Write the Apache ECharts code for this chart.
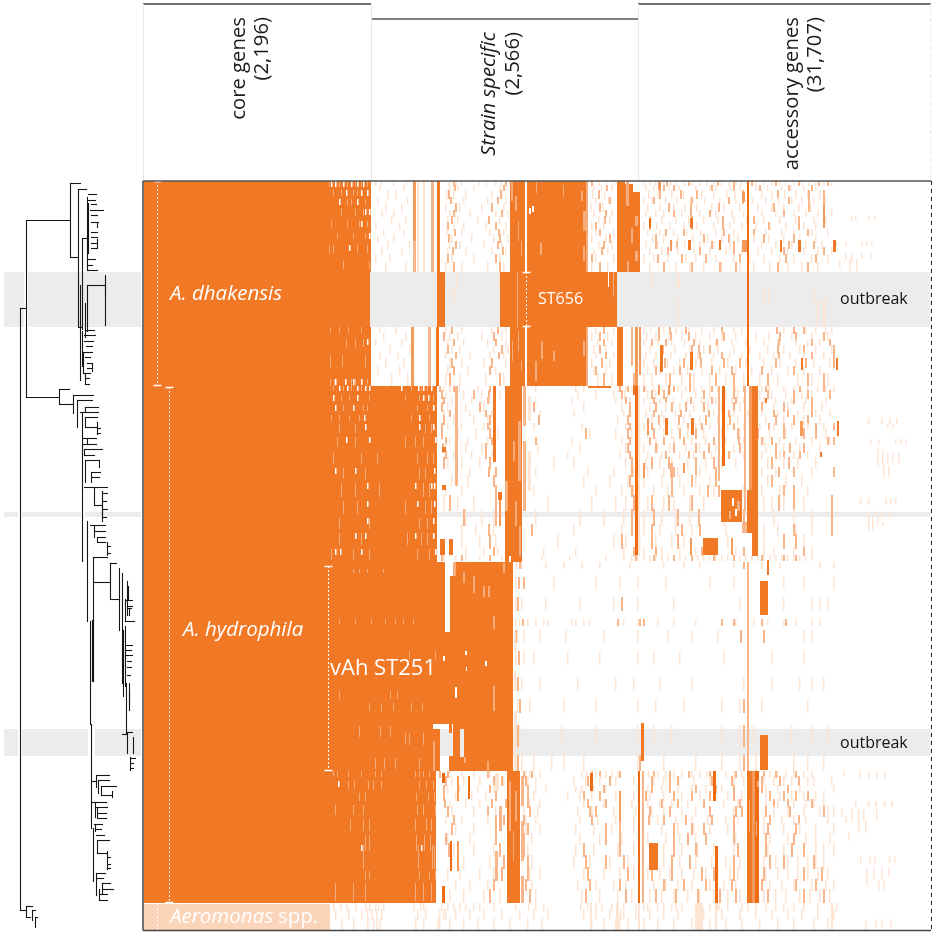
<!DOCTYPE html>
<html><head><meta charset="utf-8">
<style>html,body{margin:0;padding:0;background:#fff}#c{width:936px;height:935px}</style>
<script src="https://cdn.jsdelivr.net/npm/echarts@6/dist/echarts.min.js"></script>
</head><body><div id="c"></div>
<script>
// Units: c = gene column, r = strain row (in tree order); tree x = branch length.
const headerLines = [
  ['core genes',229,17,false],['(2,196)',252,17,false],
  ['Strain specific',479,32,true],['(2,566)',503,32,false],
  ['accessory genes',782,17,false],['(31,707)',805,17,false]];
const annotations = [ // c, r, text, size, italic, colour
  [27,113,'A. dhakensis',20.5,1,'#fff'],[40,449,'A. hydrophila',20.5,1,'#fff'],
  [187,488,'vAh ST251',22,0,'#fff'],[395,118,'ST656',16,0,'#fff'],
  [697,118,'outbreak',16,0,'#111'],[697,562,'outbreak',16,0,'#111'],
  [27,736,'Aeromonas',20.5,1,'#fff'],[135,736,'spp.',20.5,0,'#fff']];
const cladeMarkers = [ // c, r0, r1, capped
  [14,0,205],[26,206,722],[185,385,590],[383,91,146],[14,723,749]];
const outbreakRows = [[91,146],[331,336],[548,575]];
const treeBandGaps = [[4,24,91,146],[28,141,91,146],[4,18,331,336],[22,81,331,336],[85,141,331,336],[4,18,548,575],[22,88,548,575],[95,141,548,575]];

// solid presence blocks: c0,c1,r0,r1
const solidBlocks = [
 [1,228,0,91],[1,227,91,146],[1,228,146,205],
 [1,272,205,381],[272,294,205,381],[1,302,381,543],[1,297,543,590],[310,370,381,590],[302,310,451,543],[307,310,395,451],[306,309,543,552],[306,310,575,590],
 [1,270,590,722],[270,293,590,722],
 [294,297,0,91],[294,302,91,146],[293,296,146,205],
 [367,382,0,91],[367,382,146,205],[357,474,91,146],[384,445,0,91],[384,445,146,205],
 [474,482,0,91],[474,480,146,205],[482,497,11,91],[482,490,3,11],
 [229,294,205,208],[362,379,205,381],[445,468,205,207],
 [578,599,309,341],[604,615,309,352],[617,625,400,434],[617,625,554,589],[498,501,542,580],
 [506,515,662,689],[364,377,590,722],[560,575,357,374]];
// vertical stripes and strong dashes: c, width, r0, r1, level (1 pale,2 mid,3 strong,4 full,5 dark)
const stripes = [
 [270,3,0,60,3],[270,3,60,91,2],[274,2,0,91,1],[280,2,0,91,1],[288,3,0,91,2],[268,3,146,205,3],[285,3,146,205,2],
 [604,2,0,205,5],[604,2,91,146,5],[492,3,146,205,3],[496,2,146,194,3],[488,2,146,185,2],
 [312,3,205,305,2],[350,3,205,281,4],[355,4,311,319,4],[356,2,319,345,3],[380,3,205,245,2],[380,3,260,330,2],[385,3,215,240,1],[385,3,270,310,1],
 [492,3,205,374,5],[495,2,205,374,1],[579,3,205,285,5],[609,6,205,375,4],[606,3,205,309,3],[575,2,205,300,2],[601,2,205,330,2],
 [299,4,266,271,4],[299,4,304,309,4],[297,5,358,374,4],[306,4,358,374,4],
 [522,3,237,254,4],[548,3,237,254,4],[504,2,237,254,3],[657,3,240,255,3],[694,2,240,255,4],[500,2,282,297,3],[527,3,282,297,2],[540,2,282,292,3],[622,2,217,222,4],[677,2,271,276,4],[547,2,357,374,3],
 [599,5,341,352,2],[562,13,357,374,4],[588,2,357,374,3],[624,2,379,394,4],
 [506,2,37,47,5],[547,3,37,47,4],[545,3,59,69,4],[515,3,1,9,3],[599,3,11,21,3],[599,5,59,71,3],[637,2,59,71,4],[655,3,59,71,4],[690,3,59,71,4],[680,2,24,47,3],[576,2,59,69,4],[527,2,59,70,3],[665,2,10,30,2],
 [517,3,164,191,4],[547,3,171,189,4],[658,2,177,189,4],[693,2,177,189,4],[490,2,204,214,4],[515,2,204,214,3],[525,2,204,214,3],
 [604,2,381,590,2],[371,2,451,470,1],[371,2,490,510,1],[371,3,530,590,1],[370,2,590,620,2],
 [495,2,590,722,5],[499,2,590,722,2],[572,3,665,722,5],[570,3,590,620,5],[604,5,590,722,4],[612,4,590,722,5],[609,3,590,722,3],
 [447,3,592,610,5],[476,2,610,640,3],[299,3,592,602,5],[299,3,705,722,5],[314,2,595,620,3],[314,2,660,690,3],[325,2,595,618,5],[307,2,660,690,5],[352,4,592,610,1],[356,3,625,650,2],[352,3,670,700,2],[378,3,595,625,2],[378,3,640,680,2],[378,3,695,722,2],
 [552,8,722,749,1],[447,2,722,749,1],[473,3,722,749,1],[495,2,722,749,1],[572,2,722,749,1],[688,2,722,749,1]];

// dash rows: r0,r1,[pale columns],[mid columns]
const dhakensisTop = [
 [0,5,[232,238,250,262,305,312,318,335,342,352,358,448,455,462,470,500,506,512,520,527,533,541,548,556,563,570,578,585,592,598,612,620,628,636,642,650,658,665,672,680,688],[310,362,448,515,523,545,574,590,608,632,655,675,684]],
 [4,10,[236,260,306,314,330,356,362,450,458,468,502,510,525,535,552,566,572,587,596,612,624,638,647,660,672],[311,360,463,520,530,568,590,616,645,668]],
 [9,18,[244,252,303,310,322,348,358,449,461,505,514,528,540,558,570,583,591,600,618,628,641,652,664,676],[305,357,455,516,537,553,599,634,665,680]],
 [16,23,[234,264,308,320,344,362,452,465,500,508,522,533,547,561,576,592,609,622,635,648,658,670,682],[307,354,466,510,548,585,599,645,680,665]],
 [22,31,[242,258,302,316,338,360,447,459,504,516,530,541,553,568,580,596,614,628,640,655,667],[312,348,456,525,547,575,630,680,665]],
 [29,36,[238,250,306,326,352,364,450,468,502,512,520,538,556,572,588,600,618,632,650,662,674,688],[310,358,462,530,547,566,640,680],[]],
 [35,43,[248,262,304,314,334,356,455,466,507,518,532,545,560,574,590,603,620,636,652,670,682],[308,345,461,548,579,655,610]],
 [41,49,[232,256,310,320,342,362,448,460,500,513,526,540,553,570,586,598,612,626,642,660,672],[304,352,452,506,548,579,655,625]],
 [48,55,[240,260,303,318,346,360,452,470,504,516,530,543,557,572,590,605,622,638,650,668,684],[311,355,456,522,540,580,610,664]],
 [53,62,[234,250,308,328,350,364,448,462,509,520,534,549,564,578,594,610,625,640,656,672],[305,356,466,512,560,585,620,650]],
 [60,68,[244,266,306,316,340,358,455,468,502,514,528,541,556,570,586,600,618,632,648,662,678],[312,354,460,512,533,568,590,645,670]],
 [66,74,[238,258,304,322,348,362,450,464,506,518,534,550,566,582,598,614,628,644,660,674,688],[309,359,458,524,556,590,640,680]],
 [73,82,[232,246,308,330,356,452,470,500,510,524,542,552,572,590,606,620,636,650,668,684],[304,352,448,514,538,562,596,642,672]],
 [81,91,[242,262,302,318,344,360,448,464,506,520,532,546,560,578,596,610,626,644,658,674],[310,356,456,520,548,576,592,634,664]]];
const dhakensisBand = [
 [92,107,[355,301,313,508,534,536],[ ]],[107,122,[309,312,620,625,670],[]],[118,146,[674,681,680,534],[]]];
const dhakensisBottom = [
 [146,153,[236,252,302,318,348,362,452,470,500,507,520,532,545,558,570,590,598,640,650,662,672,682,688],[308,354,460,478,515,526,542,578,633,650,660],[]],
 [151,160,[240,262,306,314,338,358,448,464,503,512,525,538,552,566,578,592,612,625,648,668,684],[300,350,456,515,527,545,580,636,652,680]],
 [158,165,[232,258,304,320,344,362,454,468,500,514,528,541,556,572,588,602,620,634,652,664,676],[310,352,460,508,522,550,573,635,668,686]],
 [164,173,[246,266,308,316,350,364,450,462,506,518,531,546,560,574,590,606,624,640,656,672,688],[304,358,456,519,548,555,566,634,660,690]],
 [171,178,[236,254,302,326,346,360,452,470,502,512,527,542,554,570,586,598,616,630,646,660,680],[312,355,462,518,556,578,635,668,690]],
 [177,187,[242,260,306,318,340,362,448,466,500,510,524,536,552,568,584,602,620,636,652,670,686],[308,348,458,521,540,557,580,596,632,662,690]],
 [185,194,[234,256,304,324,352,450,462,504,516,530,544,558,576,592,608,628,644,660,676],[310,346,452,512,536,568,588,618,650]],
 [192,205,[248,264,302,316,342,360,454,468,500,508,522,538,550,566,582,600,616,634,654,668,684],[306,356,460,490,526,546,572,590,624,664,680]]];
const hydrophilaUpper = [
 [205,211,[300,306,316,334,350,392,432,440,475,482,488,502,510,518,526,534,542,550,558,566,574,592,612,618,625,640,650,664,674,682,690],[296,310,346,476,484,500,515,530,546,568,590,600,622,656,680]],
 [209,218,[302,320,338,356,434,452,470,481,504,512,524,538,552,566,582,594,616,628,642,658,668],[298,330,345,478,508,520,560,590,624,650,664,686]],
 [216,223,[308,328,346,392,428,472,486,500,516,530,544,558,572,588,600,620,632,648,662,682],[300,344,482,510,522,547,568,592,650,668]],
 [221,231,[304,322,340,440,478,506,522,536,550,564,578,596,612,630,644,660,678],[298,336,390,486,512,528,542,560,590,618,640,668]],
 [229,236,[300,326,348,396,430,480,502,518,532,546,570,590,604,618,634,654,672,686],[306,342,486,510,537,565,585,630,644,668]],
 [234,244,[310,330,344,474,508,520,540,556,574,594,608,622,640,660,676],[300,346,395,484,515,535,562,586,632,650,664]],
 [242,249,[304,318,340,390,438,482,500,516,534,552,566,584,600,616,630,648,664,680],[298,344,486,508,544,558,590,625,640,672,690]],
 [247,258,[314,332,354,446,472,488,504,520,528,544,560,578,596,610,626,642,658,682],[298,346,442,484,510,536,552,594,614,640,660,672]],
 [256,264,[306,324,344,428,478,496,512,530,548,562,582,600,620,636,652,668,686],[302,348,392,486,506,520,540,570,595,618,628,684,690]],
 [262,272,[302,322,338,394,436,482,500,514,526,542,556,572,590,606,622,640,656,676],[299,342,484,512,530,552,565,596,632,646,660]],
 [270,278,[310,328,348,424,476,504,518,536,550,568,586,600,618,636,650,664],[302,342,486,522,545,560,585,632,640,656]],
 [276,288,[304,318,336,410,430,482,502,516,528,544,562,578,592,624,640,654,672],[300,346,488,508,525,552,570,628,645]],
 [286,296,[312,326,392,444,470,490,504,520,534,556,572,618,632,650,668],[345,352,488,530,552,572,635,650,690]],
 [294,306,[308,324,440,466,484,500,518,536,552,566,624,642,658],[350,486,528,548,572,628]],
 [304,316,[302,318,390,452,478,490,510,524,540,556,570,600,618,636,650,664],[352,488,528,564,575,640,650]],
 [314,330,[300,314,330,404,448,472,482,504,520,530,546,560,580,620,628,640,650,660],[306,352,490,508,525,548,590,635,650,688]],
 [328,345,[322,338,350,392,436,460,480,500,518,532,546,580,614,630,650,668],[320,352,488,510,534,555,600,688]],
 [343,355,[318,332,350,430,478,500,516,532,548,582,620,634,652,668],[345,388,488,508,538,556,650,688]],
 [353,368,[318,336,352,414,470,482,496,512,528,540,584,620,640,660],[346,478,508,534,640,652]],
 [366,375,[322,340,354,400,432,480,500,518,536,552,592,620,630,650,668],[350,490,512,558,600,660]],
 [374,380,[300,312,322,336,358,398,426,462,480,488,494,500,506,512,518,524,530,536,542,548,554,560,566,572,578,584,590,596,602,608,614,620,626,632,638,644,650,656,662,668],[298,318,346,492,510,530,548,570,590,618,640,652]]];
const vAhRows = [
 [381,388,[373,378,402,420,438,456,486,520,540,556,590,618,636,676,690],[376,600]],
 [396,408,[372,380,410,452,476,494,522,566,590,640,660,690],[375,380]],
 [416,430,[372,378,402,436,470,494,530,596,640,668,676,684],[374,478]],
 [438,445,[372,376,384,392,400,404,428,432,440,446,474,480,494,514,530,552,592,610,624,640,652,668,676],[379,474,496,500,578,590,618,642]],
 [449,462,[374,380,396,422,460,494,524,548,574,660,668],[372,597,620]],
 [470,484,[372,380,390,424,456,494,510,536,580,628,660],[375]],
 [496,510,[372,378,396,434,472,490,516,548,600,628,656,668,680],[374]],
 [518,532,[374,386,420,452,494,512,540,578,596,618,664],[376,600]],
 [544,566,[372,376,418,452,494,510,528,578,596,610,648,668,684],[374,600]],
 [574,590,[372,378,390,408,420,440,494,520,552,578,596,612,650,664,680],[374,600,496]]];
const hydrophilaLower = [
 [590,597,[300,306,318,330,346,382,386,396,438,443,452,462,468,474,505,514,522,530,538,548,556,563,582,590,598,620,626,634,642,650,660,668],[296,304,344,380,388,448,456,476,510,526,545,566,592,620,632,652]],
 [595,605,[308,320,336,360,384,392,430,442,456,466,472,490,510,520,535,550,566,590,600,620,630,640,648,664,670,688],[302,350,358,382,444,466,508,526,534,568,588,618,636,655]],
 [604,612,[304,316,334,350,392,402,432,438,450,462,504,518,534,548,562,578,622,634,644,656,690],[300,346,384,460,508,526,552,572,590,618,644]],
 [610,620,[312,328,342,380,390,424,436,448,472,490,506,520,538,556,584,598,622,636,648,660,672,680],[300,352,384,440,456,502,530,548,566,590,626,640,652,664]],
 [618,627,[306,322,336,386,396,440,460,488,504,516,528,544,560,580,594,622,634,650,662,670,680],[301,348,362,384,444,462,518,534,560,596,630,644,668]],
 [625,636,[308,330,352,380,394,434,448,470,492,508,520,538,552,566,590,622,630,644,660,676,684,690],[304,344,386,446,452,506,526,566,592,598,622,646,680]],
 [634,644,[302,318,344,382,392,436,454,472,490,506,514,532,548,564,582,594,620,638,650,662,684],[310,352,360,380,448,476,505,520,542,568,590,626,655]],
 [642,654,[312,330,382,396,432,450,468,490,518,534,550,566,584,620,640,656,672,690],[308,352,384,462,476,530,548,560,590,624,652]],
 [652,664,[304,326,388,436,456,478,504,522,536,552,592,626,644,662,672,686],[302,352,380,462,476,530,544,562,590,622,650]],
 [662,676,[310,330,350,384,432,450,474,490,520,538,554,570,590,624,640,660,672,680,690],[305,356,380,440,476,530,552,594,622,648,660]],
 [674,688,[308,320,346,388,430,446,466,484,520,536,552,568,582,596,620,632,644,654,664,672,680],[352,360,384,442,462,480,528,546,590,626,640,670]],
 [686,700,[304,316,336,350,386,396,440,460,476,490,504,516,526,538,550,562,574,586,594,622,634,644,654,664,674,684],[358,384,444,484,508,528,558,570,590,620,660,678]],
 [698,710,[312,326,344,388,434,452,470,482,510,522,534,548,566,580,592,626,638,650,668,682,690],[350,382,446,476,520,540,562,588,618,652,672]],
 [708,722,[306,320,340,356,392,438,456,474,488,506,518,530,544,556,570,584,596,620,632,642,656,666,676,686],[346,386,442,482,512,532,554,576,592,624,660,680]]];
const aeromonasRows = [
 [722,730,[190,197,203,212,222,235,240,270,280,298,304,310,316,322,330,336,350,372,385,392,400,437,444,452,458,468,480,492,504,514,520,528,538,554,566,574,584,598,612,622,632,640,650,660,674,688,693,226,232,277,500,532,558,575,604]],
 [728,739,[192,205,218,228,238,274,282,296,302,312,326,340,358,376,390,404,440,452,466,480,492,506,520,534,560,578,596,612,628,644,658,674,690,224,233,300,477]],
 [737,749,[198,210,224,236,272,280,294,306,320,334,350,366,384,398,448,460,472,484,500,514,530,548,566,582,598,616,634,650,670,684,230,233,296,476]]];
const farDashes = [ // sparse distant columns: c, r0, r1
 [708,35,40],[712,35,40],[725,35,40],[731,35,40],[693,60,65],[702,60,65],[718,60,65],[723,60,65],[728,60,65],
 [702,72,80],[708,72,82],[718,72,78],[727,72,78],[706,78,90],[713,78,90],[696,78,88],
 [725,237,243],[738,237,243],[746,237,243],[753,237,243],[744,243,248],[749,243,248],[727,258,263],[735,258,263],[752,258,263],[757,258,263],[762,258,263],
 [734,268,285],[739,268,285],[744,272,282],[749,272,282],[755,272,282],[740,285,296],[745,285,296],
 [717,317,323],[725,317,323],[742,317,323],[747,317,323],[752,317,323],[725,330,336],[732,330,336],[738,330,336],[746,330,336],[725,336,350],[729,336,350],[734,336,345],[739,340,345],
 [702,635,642],[700,590,595],[716,590,598],[725,590,598],[733,590,598],[741,590,598],[725,620,626],[732,620,626],[741,620,626],[748,620,626],[712,620,626],
 [708,628,640],[715,628,640],[720,628,640],[733,628,640],[698,628,636],[715,640,652],[722,640,652],[705,652,660],
 [717,675,682],[726,675,682],[731,675,682],[746,675,682],[751,675,682],[723,687,705],[730,687,698],[738,687,698],[745,687,695],[735,700,710],[740,700,710],
 [722,740,749],[732,738,746],[738,738,746],[747,738,746]];
// notches in solid blocks: r0,r1,[white columns],[light columns]
const coreCuts = [
 [0,6,[188,192,200,208,214,220],[186,196,204,212,218,224]],[9,15,[203,218,224],[190,198,210,214]],
 [18,24,[196,214],[204,208,222]],[28,35,[222,226],[198,212,220]],[40,46,[218],[188,204,216,224]],
 [52,58,[226],[194,210,222]],[64,72,[206],[186,190,214,224]],[80,88,[],[200,226]],
 [146,152,[],[187,196,205,218]],[158,166,[224],[203,212,220]],[174,186,[],[187,199,222]],
 [198,205,[202,218,192,210],[187,191,208,212,224]],
 [205,210,[196,204,214,222,226,258,275,280,288],[190,200,208,218,268,278,284]],[214,220,[190,214,280,285],[198,206,226,262,276,290]],
 [224,230,[192,210,290],[200,220,224,274,284]],[234,240,[221,276],[188,196,206,216,268,286]],[243,252,[222,276,290],[196,212,282,288]],
 [256,266,[203,226,292],[194,212,262,272,280]],[272,283,[],[190,218,234,274,284,290]],[287,298,[192,212,291],[200,222,276,282]],
 [302,316,[224,272,291,288],[198,212,236,280,286]],[320,333,[224,274,291],[200,214,262,282,288]],[337,348,[224,290],[196,226,276,284]],
 [352,364,[212,222,272,290],[196,218,264,278,284]],[368,379,[192,197,218,292],[188,210,226,274,286]],
 [388,392,[],[210,216,224,240]],[438,443,[],[196,212,228,242,252,260,270]],[470,478,[],[266,292]],[510,518,[],[196,247,254]],
 [522,530,[],[226,238,250,268,279]],[545,556,[],[216,237,247]],[552,564,[],[262,266,280]],[577,588,[],[232,241,252,276]],
 [590,596,[],[190,194,205,218,232,238,272,276,280,286]],[600,608,[195],[205,211,225,230,238,276,283,290]],[612,620,[],[216,222,273,285,291]],
 [624,634,[],[192,210,220,274,280,292]],[638,650,[],[207,220,226,272,283,288]],[654,670,[],[222,226,273,281,287]],
 [664,688,[218,278],[220,275,289,291]],[690,698,[],[222,226,276,286,292]],[702,720,[],[192,210,222,272,280,288]]];
// notches in the other blocks: c0,c1,r0,r1,level (0 white, 7 light, 6 grey)
const blockCuts = [
 [374,375,91,146,7],[465,466,91,106,0],[470,471,91,116,7],
 [368,370,0,20,7],[372,374,15,30,7],[375,376,40,60,7],[375,376,150,170,7],[369,370,160,180,7],[378,379,60,75,7],[378,379,180,190,7],
 [386,388,27,33,0],[389,391,25,31,0],[397,399,62,74,7],[393,394,0,12,7],[420,421,4,16,7],[438,440,10,20,7],[440,443,30,50,7],[440,442,65,80,7],[443,445,0,91,7],
 [410,412,170,180,7],[398,400,160,178,7],[392,394,180,200,7],[440,442,160,175,7],[443,445,146,205,7],
 [483,486,0,25,7],[492,495,35,45,7],[488,490,47,62,7],[492,495,70,80,7],[484,486,80,91,7],
 [362,365,300,330,7],[375,378,240,300,7],[370,372,260,280,7],[372,374,320,345,7],[376,378,345,375,7],[366,368,375,381,0],
 [589,591,317,325,0],[592,594,328,335,0],[594,597,320,330,7],[586,588,330,338,7],
 [302,310,381,394,0],[310,313,381,395,7],[312,314,506,517,0],[300,302,475,480,0],[342,344,480,485,0],[322,324,470,474,0],[323,324,486,490,0],
 [320,322,391,402,7],[340,342,405,416,7],[345,347,405,416,7],[317,321,548,576,6],[321,323,576,582,7],[350,352,435,448,7],[360,362,382,392,7],[330,332,395,412,7],[350,352,505,530,7],[344,346,580,590,7],
 [290,297,543,548,0],[290,292,560,590,7],
 [366,368,600,650,7],[372,374,610,640,7],[370,371,650,680,7],[606,607,620,650,7],[613,614,640,655,7],[614,616,600,606,7]];

// tree branches: x0,r0,x1,r1,style (1 = grey thick, 2 = black thick)
const treeBranches = [
 [20,127,20,729],[20,127,26,127],[20,729,26,729],[26,725,26,736],[26,725,32,725],[26,736,30,736],[32,729,32,739],[32,729,35,729],[35,736,35,746],[35,736,37,736],
 [26,39,26,216],[26,39,70,39],[26,216,59,216],
 [70,2,70,76],[70,2,80,2],[70,76,78,76],[78,8,78,146],[78,8,86,8],[78,146,82,146],
 [82,57,82,148],[82,57,87,57],[87,16,87,89],[88,22,88,72,1],
 [88,13,96,13],[88,19,95,19],[91,23,96,23],[90,29,103,29],[91,34,97,34],[91,41,98,41],[97,41,97,46],[91,51,97,51],[91,56,97,56],[91,62,97,62],[91,67,97,67],[97,58,97,66],[87,78,95,78],[87,84,92,84],[88,89,97,89],
 [87,104,105,104],[87,104,87,150],[105,94,105,144],[105,103,105,113,2],[85,122,85,156],[85,149,94,149],[84,154,95,154],[84,160,93,160],[86,165,92,165],
 [80,104,80,199],[82,150,82,185,1],[83,171,92,171],[85,176,90,176],[87,182,92,182],[87,187,92,187],[92,182,92,190],[83,192,90,192],[85,197,89,197],[85,203,89,203],[85,192,85,203],[83,171,83,192],
 [59,208,59,223],[59,208,69,208],[59,223,73,223],[73,214,73,232],[73,214,93,214],[77,219,92,219],[77,219,77,246],[80,231,85,231],[85,226,98,226],[85,226,85,231],[85,231,98,231],
 [82,231,82,380,1],[85,236,97,236],[85,236,85,246],[85,246,97,246],[97,241,97,253],[97,247,100,247],[97,252,100,252],
 [83,257,96,257],[83,263,96,263],[87,257,87,263],[84,268,102,268],[84,268,84,274],[84,274,94,274],[85,279,99,279],[85,279,85,301],[99,279,99,286],[91,291,100,291],[91,296,99,296],[91,291,91,301],
 [84,306,107,306],[94,306,94,324],[94,324,102,324],[102,310,102,340],[102,316,102,336,2],[102,312,107,312],[102,320,106,320],[102,328,107,328],[102,336,106,336],
 [90,344,105,344],[94,350,105,350],[94,344,94,356],[97,356,105,356],[97,356,97,361],[97,361,105,361],[107,361,107,374],[107,365,110,365],[107,372,110,372],
 [87,340,87,440,1],[93,376,107,376],[93,376,93,500],[94,401,110,401],[110,382,110,418],[110,382,116,382],[110,418,119,418],[119,387,119,449],
 [122,392,122,502],[127,400,127,434],[128,405,128,418,2],[125,418,125,440],[125,419,132,419],[127,425,132,425],[125,440,134,440],[128,427,131,427],[129,428,129,434],
 [123,449,123,515],[123,449,123,485,2],[125,445,125,505,1],[126,464,132,464],[126,469,131,469],[126,474,132,474],[127,480,131,480],[127,486,131,486],[127,494,130,494],
 [129,502,129,529],[129,510,129,525,2],[126,502,126,553],[122,553,127,553],[127,552,127,572,1],[127,551,132,551],[133,556,133,572],[130,576,130,589],[130,577,135,577],[130,582,133,582],[130,587,133,587],
 [90,440,90,543,1],[92,439,92,500,1],[91,543,91,647],
 [96,594,96,606],[92,600,96,600],[96,594,109,594],[98,599,109,599],[98,599,98,612],[101,605,116,605],[101,605,101,614],[101,614,112,614],[112,610,112,616],
 [91,621,95,621],[95,621,106,621],[95,626,107,626],[95,621,95,636],[97,632,106,632],[97,637,106,637],[97,626,97,637],
 [93,647,93,700,1],[94,643,102,643],[95,648,101,648],[96,654,104,654],[95,643,95,650],
 [97,659,109,659],[97,659,97,672],[97,672,106,672],[107,670,107,688],[107,676,110,676],[107,683,110,683],[107,687,110,687],
 [96,692,105,692],[96,697,103,697],[96,692,96,714],[102,702,110,702],[102,708,113,708],[102,702,102,712],[99,713,107,713],[99,719,107,719],[99,708,99,719]];

const palette = {0:'#ffffff',1:'#fde4d3',2:'#f8b68a',3:'#f49a5b',4:'#f17825',5:'#ee6b12',6:'#ececec',7:'#f7ad7b',8:'#fbd5ba'};
const rects = [];
outbreakRows.forEach(b=>rects.push([0,788,b[0],b[1],6]));
function addDash(rows){rows.forEach(b=>{
  (b[2]||[]).forEach(c=>rects.push([c,c+1.5,b[0],b[1],1]));
  (b[3]||[]).forEach(c=>rects.push([c,c+2,b[0],b[1],2]));});}
[dhakensisTop,dhakensisBand,dhakensisBottom,hydrophilaUpper,vAhRows,hydrophilaLower,aeromonasRows].forEach(addDash);
farDashes.forEach(d=>rects.push([d[0],d[0]+1.5,d[1],d[2],1]));
rects.push([1,187,723,749,8]);
stripes.filter(s=>s[4]<3).forEach(s=>rects.push([s[0],s[0]+s[1],s[2],s[3],s[4]]));
solidBlocks.forEach(b=>rects.push([b[0],b[1],b[2],b[3],4]));
stripes.filter(s=>s[4]>=3).forEach(s=>rects.push([s[0],s[0]+s[1],s[2],s[3],s[4]]));
coreCuts.forEach(b=>{
  b[3].forEach(c=>rects.push([c,c+1,b[0],b[1],7]));
  b[2].forEach(c=>rects.push([c,c+1.5,b[0],b[0]+Math.min(b[1]-b[0],6),0]));});
blockCuts.forEach(b=>rects.push(b));

function rectItem(p,api){
  const a=api.coord([api.value(0),api.value(2)]),b=api.coord([api.value(1),api.value(3)]);
  return {type:'rect',shape:{x:a[0],y:a[1],width:b[0]-a[0],height:b[1]-a[1]},style:{fill:palette[api.value(4)]},silent:true};
}
const font='"Open Sans"';
const chart=echarts.init(document.getElementById('c'),null,{renderer:'canvas'});
const gline=(x1,y1,x2,y2,stroke,w,dash)=>({type:'line',shape:{x1,y1,x2,y2},silent:true,style:{stroke,lineWidth:w,lineDash:dash||null},z:50});
chart.setOption({
  animation:false,backgroundColor:'#fff',
  grid:[{left:143,top:181,width:788,height:749,show:false},{left:0.5,top:181.5,width:143,height:749,show:false}],
  xAxis:[{gridIndex:0,type:'value',min:0,max:788,show:false},{gridIndex:1,type:'value',min:0,max:143,show:false}],
  yAxis:[{gridIndex:0,type:'value',min:0,max:749,inverse:true,show:false},{gridIndex:1,type:'value',min:0,max:749,inverse:true,show:false}],
  tooltip:{show:false},
  graphic:[
    gline(143,4,371,4,'#444',1.5),gline(371,19,638,19,'#555',1.5),gline(638,4,931,4,'#444',1.5),
    gline(143.5,4,143.5,181,'#e8e8e8',1),gline(371.5,4,371.5,181,'#e8e8e8',1),gline(638.5,4,638.5,181,'#e8e8e8',1),gline(930.5,4,930.5,181,'#e8e8e8',1,[4,3]),
    gline(143,181,931,181,'#555',1.5),gline(143,181,143,930.5,'#444',1.5),gline(143,930.5,931,930.5,'#444',1.5),gline(931.5,181,931.5,930,'#222',1,[4,4]),
    ...headerLines.map(l=>({type:'text',x:l[1],y:l[2],rotation:Math.PI/2,silent:true,z:60,
      style:{text:l[0],font:(l[3]?'italic ':'')+'20.3px '+font,fill:'#1a1a1a',align:'right',verticalAlign:'top'}}))
  ],
  series:[
   {type:'custom',xAxisIndex:1,yAxisIndex:1,coordinateSystem:'cartesian2d',silent:true,z:1,clip:false,
    data:treeBandGaps,encode:{x:[0,1],y:[2,3]},
    renderItem:(p,api)=>{const a=api.coord([api.value(0),api.value(2)]),b=api.coord([api.value(1),api.value(3)]);
      return {type:'rect',shape:{x:a[0]-.5,y:a[1]-.5,width:b[0]-a[0],height:b[1]-a[1]},style:{fill:'#ececec'}};}},
   {type:'custom',xAxisIndex:1,yAxisIndex:1,silent:true,z:2,clip:false,
    data:treeBranches,encode:{x:[0,2],y:[1,3]},
    renderItem:(p,api)=>{const a=api.coord([api.value(0),api.value(1)]),b=api.coord([api.value(2),api.value(3)]);
      const s=api.value(4);
      return {type:'line',shape:{x1:a[0],y1:a[1],x2:b[0],y2:b[1]},style:{stroke:s===1?'#777':'#161616',lineWidth:s>=1?2:1.1,lineCap:'square'}};}},
   {type:'custom',xAxisIndex:0,yAxisIndex:0,silent:true,z:3,clip:true,progressive:0,large:false,
    data:rects,encode:{x:[0,1],y:[2,3]},renderItem:rectItem},
   {type:'custom',xAxisIndex:0,yAxisIndex:0,silent:true,z:4,clip:false,
    data:cladeMarkers,encode:{x:0,y:[1,2]},
    renderItem:(p,api)=>{const a=api.coord([api.value(0),api.value(1)]),b=api.coord([api.value(0),api.value(2)]);
      const x=Math.round(a[0])+.5, w=api.value(0)===14&&api.value(1)>700?0:4;
      return {type:'group',children:[
        {type:'line',shape:{x1:x,y1:a[1],x2:x,y2:b[1]},style:{stroke:'#fff',lineWidth:1,lineDash:[2,2]}},
        {type:'line',shape:{x1:x-w,y1:a[1]+.5,x2:x+w,y2:a[1]+.5},style:{stroke:w?'#fff':'transparent',lineWidth:1.5}},
        {type:'line',shape:{x1:x-w,y1:b[1]-.5,x2:x+w,y2:b[1]-.5},style:{stroke:w?'#fff':'transparent',lineWidth:1.5}}]};}},
   {type:'custom',xAxisIndex:0,yAxisIndex:0,silent:true,z:5,clip:false,
    data:annotations.map(a=>({value:[a[0],a[1]]})),encode:{x:0,y:1},
    renderItem:(p,api)=>{const a=annotations[p.dataIndex],pt=api.coord([a[0],a[1]]);
      return {type:'text',x:pt[0],y:pt[1],style:{text:a[2],font:(a[4]?'italic ':'')+a[3]+'px '+font,fill:a[5],align:'left',verticalAlign:'middle'}};}}
  ]
});
</script></body></html>
